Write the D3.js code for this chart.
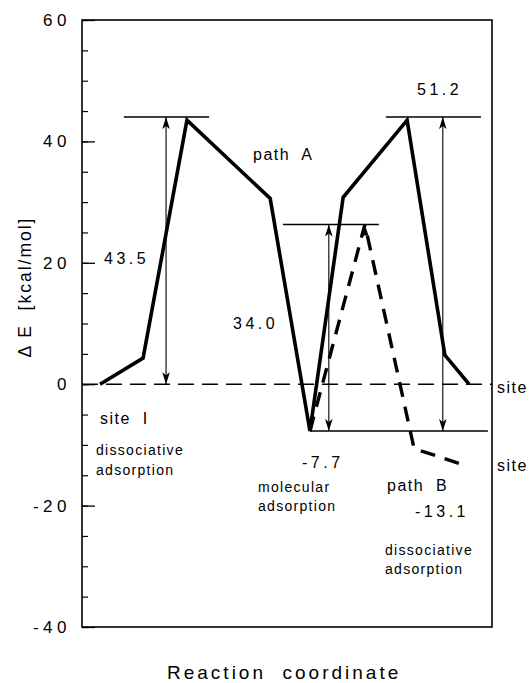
<!DOCTYPE html>
<html>
<head>
<meta charset="utf-8">
<script src="https://cdn.jsdelivr.net/npm/d3@7"></script>
<style>
  body { margin: 0; background: #fff; }
  svg { font-family: "Liberation Sans", Arial, sans-serif; }
</style>
</head>
<body>
<div id="chart"></div>
<script>
// Path A (solid) : reaction coordinate / energy
const pathAX = [4.4, 14.9, 25.6, 45.9, 55.6, 63.7, 79.3, 88.5, 94.4];
const pathAE = [0, 4.3, 43.5, 30.6, -7.7, 30.8, 43.5, 4.8, 0];
// Path B (dashed)
const pathBX = [55.6, 69.0, 81.0, 92.2];
const pathBE = [-7.7, 26.3, -10.6, -13.1];
// horizontal level lines
const levelE = [44, 44, 26.3, -7.7];
const levelX0 = [10.2, 74.1, 49.0, 55.6];
const levelX1 = [31.0, 97.3, 72.4, 99.0];
// double-headed arrows (barriers)
const arrowX = [20.5, 60.2, 88.0];
const arrowFrom = [0, -7.7, -7.7];
const arrowTo = [44, 26.3, 44];
const arrowLabel = ["43.5", "34.0", "51.2"];
// y axis ticks
const majorTicks = [-40, -20, 0, 20, 40, 60];
const minorTicks = d3.range(-40, 61, 5);

const width = 531, height = 683;
const svg = d3.select('#chart').append('svg')
    .attr('width', width)
    .attr('height', height);

const x = d3.scaleLinear().domain([0, 100]).range([82, 492]);
const y = d3.scaleLinear().domain([-40, 60]).range([627, 20]);

// arrowhead marker
const defs = svg.append('defs');
defs.append('marker')
    .attr('id', 'head')
    .attr('markerUnits', 'userSpaceOnUse')
    .attr('viewBox', '-12 -5 14 10')
    .attr('markerWidth', 14)
    .attr('markerHeight', 10)
    .attr('refX', 0)
    .attr('refY', 0)
    .attr('orient', 'auto-start-reverse')
    .append('path')
    .attr('d', 'M0,0 L-12,-3.8 L-9,0 L-12,3.8 Z')
    .attr('fill', '#000');

// minor ticks
svg.append('g')
    .attr('transform', `translate(${x(0)},0)`)
    .call(d3.axisLeft(y).tickValues(minorTicks).tickSize(-6).tickFormat(''))
    .call(g => g.select('.domain').remove())
    .selectAll('line').attr('stroke-width', 1.2);

// major ticks + labels
svg.append('g')
    .attr('transform', `translate(${x(0)},0)`)
    .call(d3.axisLeft(y).tickValues(majorTicks).tickSize(-13).tickPadding(11)
        .tickFormat(d => d < 0 ? '-' + Math.abs(d) : d))
    .call(g => g.select('.domain').remove())
    .call(g => g.selectAll('line').attr('stroke-width', 1.3))
    .selectAll('text')
    .attr('font-family', '"Liberation Sans", Arial, sans-serif')
    .attr('font-size', 17)
    .attr('letter-spacing', 4.5)
    .attr('fill', '#000');

// frame
svg.append('rect')
    .attr('x', x(0)).attr('y', y(60))
    .attr('width', x(100) - x(0)).attr('height', y(-40) - y(60))
    .attr('fill', 'none').attr('stroke', '#000').attr('stroke-width', 1.6);

// zero reference (dashed)
svg.append('line')
    .attr('x1', x(0)).attr('x2', x(100))
    .attr('y1', y(0)).attr('y2', y(0))
    .attr('stroke', '#000').attr('stroke-width', 1.5)
    .attr('stroke-dasharray', '16,8');

// level lines
levelE.forEach((e, i) => {
    svg.append('line')
        .attr('x1', x(levelX0[i])).attr('x2', x(levelX1[i]))
        .attr('y1', y(e)).attr('y2', y(e))
        .attr('stroke', '#000').attr('stroke-width', 1.5);
});

// arrows
arrowX.forEach((ax, i) => {
    svg.append('line')
        .attr('x1', x(ax)).attr('x2', x(ax))
        .attr('y1', y(arrowFrom[i])).attr('y2', y(arrowTo[i]))
        .attr('stroke', '#000').attr('stroke-width', 1.1)
        .attr('marker-start', 'url(#head)')
        .attr('marker-end', 'url(#head)');
});

const line = d3.line().x(d => x(d[0])).y(d => y(d[1]));

// path A
svg.append('path')
    .datum(pathAX.map((v, i) => [v, pathAE[i]]))
    .attr('d', line)
    .attr('fill', 'none').attr('stroke', '#000')
    .attr('stroke-width', 3.6).attr('stroke-linejoin', 'miter');

// path B
svg.append('path')
    .datum(pathBX.map((v, i) => [v, pathBE[i]]))
    .attr('d', line)
    .attr('fill', 'none').attr('stroke', '#000')
    .attr('stroke-width', 3.4)
    .attr('stroke-dasharray', '15,10');

// small head at path B top
const px = x(pathBX[1]), py = y(pathBE[1]);
svg.append('path')
    .attr('d', `M${px},${py} L${px - 3.5},${py + 11} L${px + 3.5},${py + 11} Z`)
    .attr('fill', '#000');

// texts
function label(t, tx, ty, size, ls) {
    return svg.append('text')
        .attr('x', tx).attr('y', ty)
        .attr('font-size', size)
        .attr('letter-spacing', ls)
        .style('white-space', 'pre')
        .text(t);
}

label(arrowLabel[0], 104, 264, 16, 3.5);
label(arrowLabel[1], 233, 329, 16, 3.5);
label(arrowLabel[2], 417, 95, 16, 3.5);

label('path  A', 253, 160, 16, 1.5);
label('site  I', 100, 424, 16, 1.5);
label('dissociative', 96, 455, 14, 1.3);
label('adsorption', 96, 475, 14, 1.3);

label('-7.7', 302, 468, 16, 3.5);
label('molecular', 258, 492, 14, 1.3);
label('adsorption', 258, 511, 14, 1.3);

label('path  B', 387, 491, 16, 1.5);
label('-13.1', 415, 517, 16, 3.5);
label('dissociative', 385, 555, 14, 1.3);
label('adsorption', 385, 574, 14, 1.3);

label('site', 497, 393, 16, 1.5);
label('site', 497, 471, 16, 1.5);

// axis titles
label('Reaction  coordinate', 167, 679, 19, 3);

svg.append('text')
    .attr('transform', `translate(31, 287) rotate(-90)`)
    .attr('text-anchor', 'middle')
    .attr('font-size', 17.5)
    .attr('letter-spacing', 2)
    .style('white-space', 'pre')
    .text('Δ E  [kcal/mol]');
</script>
</body>
</html>
